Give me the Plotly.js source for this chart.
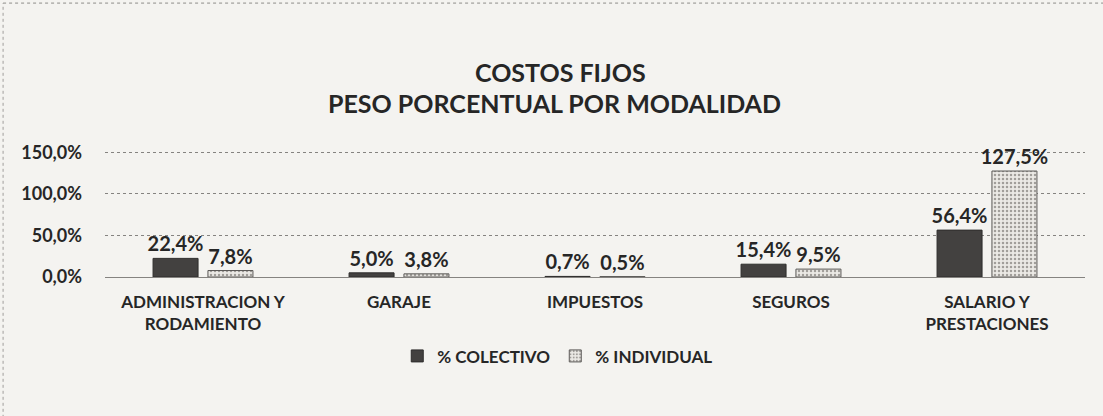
<!DOCTYPE html>
<html>
<head>
<meta charset="utf-8">
<script src="https://cdn.plot.ly/plotly-3.0.1.min.js"></script>
<style>
  html, body { margin: 0; padding: 0; background: #f4f3f0; }
  #grafico { width: 1103px; height: 416px; }
</style>
</head>
<body>
<div id="grafico"></div>
<script>
// Costos fijos - peso porcentual por modalidad
const categorias = ['ADMINISTRACION Y<br>RODAMIENTO', 'GARAJE', 'IMPUESTOS', 'SEGUROS', 'SALARIO Y<br>PRESTACIONES'];
const colectivo = [22.4, 5.0, 0.7, 15.4, 56.4];
const individual = [7.8, 3.8, 0.5, 9.5, 127.5];
const ejeValores = [0, 50, 100, 150];
const ejeTextos = ['0,0%', '50,0%', '100,0%', '150,0%'];

const fuente = 'Lato, "Open Sans", sans-serif';

const traceColectivo = {
    x: categorias,
    y: colectivo,
    type: 'bar',
    name: '% COLECTIVO',
    marker: { color: '#434140', line: { color: '#2e2d2c', width: 1 } },
    texttemplate: '%{y:.1f}%',
    textposition: 'outside',
    constraintext: 'none',
    cliponaxis: false,
    textfont: { family: fuente, size: 20, color: '#262626', weight: 'bold' },
    hoverinfo: 'x+y'
};

const traceIndividual = {
    x: categorias,
    y: individual,
    type: 'bar',
    name: '% INDIVIDUAL',
    marker: {
        color: '#ebe9e5',
        line: { color: '#5a5856', width: 1 },
        pattern: { shape: '.', fgcolor: '#a19e9a', bgcolor: '#ebe9e5', size: 4, solidity: 0.3 }
    },
    texttemplate: '%{y:.1f}%',
    textposition: 'outside',
    constraintext: 'none',
    cliponaxis: false,
    textfont: { family: fuente, size: 20, color: '#262626', weight: 'bold' },
    hoverinfo: 'x+y'
};

const layout = {
    width: 1103,
    height: 416,
    paper_bgcolor: '#f4f3f0',
    plot_bgcolor: 'rgba(0,0,0,0)',
    separators: ',.',
    font: { family: fuente, color: '#262626' },
    title: {
        text: 'COSTOS FIJOS',
        font: { family: fuente, size: 25, color: '#262626', weight: 'bold' },
        x: 0.508,
        xanchor: 'center',
        y: 0.823,
        yanchor: 'middle'
    },
    annotations: [
        {
            text: 'PESO PORCENTUAL POR MODALIDAD',
            xref: 'paper', yref: 'paper',
            x: 0.459, y: 1.36,
            xanchor: 'center', yanchor: 'middle',
            showarrow: false,
            font: { family: fuente, size: 25, color: '#262626', weight: 'bold' }
        }
    ],
    margin: { l: 105, r: 18, t: 149, b: 139 },
    barmode: 'group',
    bargap: 0.44,
    bargroupgap: 0.18,
    xaxis: {
        tickfont: { family: fuente, size: 17, color: '#262626', weight: 'bold' },
        showgrid: false,
        showline: false,
        ticks: '',
        ticklabelstandoff: 13
    },
    yaxis: {
        range: [0, 154],
        tickmode: 'array',
        tickvals: ejeValores,
        ticktext: ejeTextos,
        tickfont: { family: fuente, size: 18, color: '#262626', weight: 'bold' },
        gridcolor: '#858380',
        griddash: 'dot',
        gridwidth: 1,
        zeroline: true,
        zerolinecolor: '#858380',
        zerolinewidth: 1,
        ticklabelstandoff: 22
    },
    legend: {
        orientation: 'h',
        x: 0.462,
        xanchor: 'center',
        y: -0.62,
        yanchor: 'middle',
        font: { family: fuente, size: 17, color: '#262626', weight: 'bold' },
        itemwidth: 30,
        bgcolor: 'rgba(0,0,0,0)'
    },
    shapes: [
        {
            type: 'line', xref: 'paper', yref: 'paper',
            x0: -0.104, x1: 1.02, y0: 2.14, y1: 2.14,
            line: { color: '#8e8c89', width: 1, dash: 'dot' }
        },
        {
            type: 'line', xref: 'paper', yref: 'paper',
            x0: -0.104, x1: -0.104, y0: -1.1, y1: 2.14,
            line: { color: '#a09e9b', width: 1, dash: 'dot' }
        }
    ],
    showlegend: true
};

Plotly.newPlot('grafico', [traceColectivo, traceIndividual], layout, { displayModeBar: false });
</script>
</body>
</html>
